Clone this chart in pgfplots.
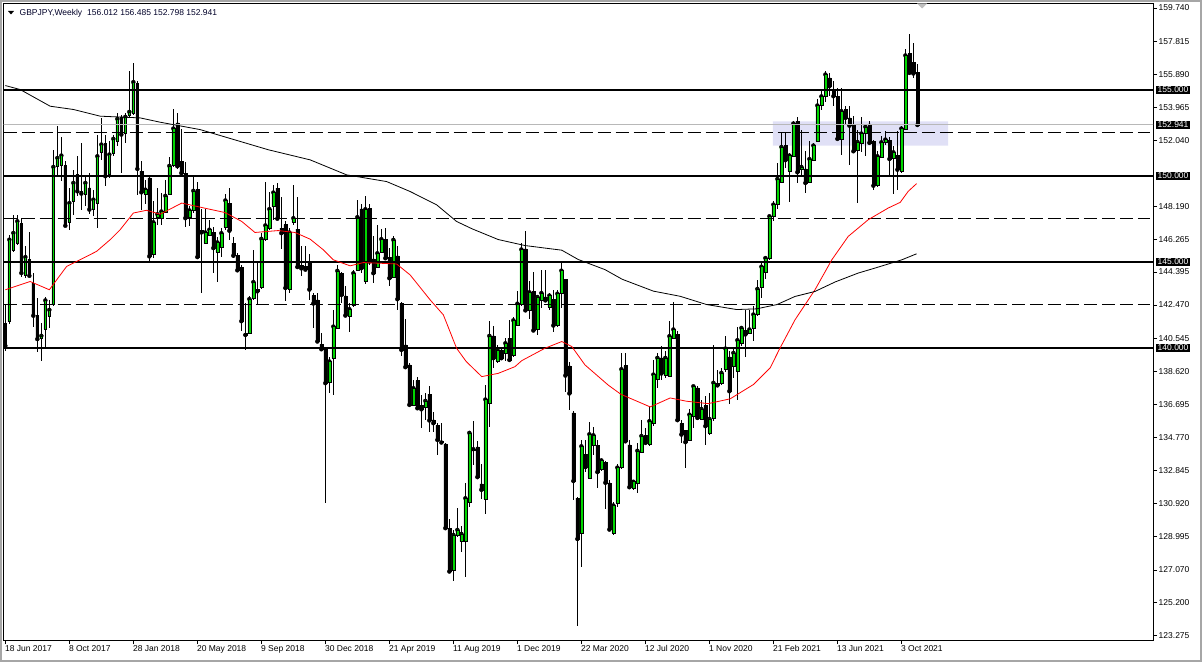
\documentclass[border=0pt]{standalone}
\usepackage{pgfplots}
\pgfplotsset{compat=1.18}
\usepackage{pgfplotstable}
\usetikzlibrary{calc}
\usepackage{fontspec}
\setmainfont{Liberation Sans}
\definecolor{bullgreen}{RGB}{0,215,0}
\definecolor{boxfill}{RGB}{224,224,246}
\newcommand{\lblfont}{\fontsize{8.5}{10}\selectfont}

\pgfplotstableread{
i O H L C
0 141.42 142.50 139.80 140.10
1 141.52 146.56 141.38 146.27
2 145.65 147.72 145.53 146.66
3 146.08 147.72 145.98 147.34
4 147.20 147.53 144.13 144.33
5 144.23 145.88 144.04 145.26
6 145.14 146.70 144.10 144.17
7 143.75 144.33 141.22 141.85
8 141.85 142.87 139.77 140.49
9 140.53 141.42 139.19 140.68
10 141.07 142.93 140.06 142.74
11 141.81 142.74 141.13 142.19
12 142.49 151.51 142.39 150.50
13 150.54 152.87 150.05 151.02
14 150.58 152.24 149.66 151.16
15 150.58 150.83 147.04 147.08
16 147.28 149.28 146.81 148.40
17 148.50 150.34 147.72 149.57
18 150.05 151.12 148.79 149.08
19 149.06 151.90 148.02 148.95
20 148.89 150.05 148.21 149.57
21 149.28 150.15 147.78 148.02
22 148.05 149.18 147.63 148.60
23 148.40 152.38 146.95 151.12
24 151.35 153.35 150.93 151.80
25 151.86 152.38 149.37 149.96
26 150.05 151.99 149.86 151.22
27 151.31 152.38 151.12 152.13
28 151.99 153.64 151.70 153.29
29 153.41 153.54 150.15 152.38
30 152.44 153.64 151.90 153.41
31 153.51 156.07 153.41 153.70
32 153.60 156.55 153.54 155.43
33 155.35 155.49 148.89 150.38
34 150.25 150.83 148.02 149.02
35 148.93 149.76 148.36 149.18
36 149.86 149.96 144.91 145.30
37 145.45 148.50 145.20 147.28
38 147.56 149.30 147.10 147.75
39 147.52 148.97 147.14 147.91
40 147.85 149.75 147.81 148.82
41 148.92 151.10 148.88 150.56
42 150.60 153.84 150.50 152.73
43 153.06 153.64 150.40 150.54
44 150.81 152.70 150.10 150.14
45 150.14 150.81 147.00 147.52
46 147.56 148.20 147.04 147.97
47 147.97 149.94 147.81 149.11
48 149.21 149.65 145.20 145.26
49 146.79 148.05 143.17 146.69
50 146.07 148.05 146.03 146.69
51 146.54 147.39 146.50 146.85
52 146.71 147.00 144.33 145.78
53 145.55 146.42 143.79 146.11
54 145.84 146.94 145.26 146.65
55 147.00 148.92 146.81 148.55
56 148.36 149.27 146.27 146.79
57 146.07 146.42 145.20 145.34
58 145.38 145.50 144.43 144.49
59 144.66 144.80 140.95 141.53
60 140.83 142.59 139.88 140.73
61 140.85 142.98 140.81 142.82
62 142.88 145.65 142.79 143.81
63 143.40 144.91 142.50 143.27
64 143.48 146.65 143.40 146.32
65 146.31 149.65 146.17 147.10
66 146.94 149.07 146.85 148.05
67 148.20 149.46 147.43 149.01
68 149.27 149.55 147.43 147.49
69 146.94 148.78 145.73 146.65
70 147.14 147.33 142.69 143.46
71 143.37 146.94 143.17 146.69
72 147.29 149.46 147.14 147.52
73 146.89 148.78 144.60 144.68
74 144.76 145.92 144.18 144.60
75 144.72 145.88 144.43 144.53
76 145.01 145.45 142.79 143.37
77 143.02 143.20 141.12 142.56
78 142.77 143.16 140.30 140.35
79 140.19 140.83 139.86 139.90
80 139.96 140.06 130.99 137.93
81 137.97 139.44 137.38 139.19
82 139.38 142.19 137.25 141.22
83 141.12 144.81 141.07 144.46
84 144.32 144.42 142.58 143.06
85 143.00 143.55 141.80 141.86
86 141.80 142.58 140.93 142.23
87 142.44 144.52 142.38 144.32
88 144.52 148.55 144.48 147.58
89 148.06 148.35 144.32 144.61
90 143.84 148.82 143.70 148.04
91 148.10 148.35 144.81 145.00
92 145.16 146.49 143.74 144.32
93 144.67 147.13 144.61 145.48
94 145.52 146.88 145.48 146.30
95 146.30 146.94 145.10 145.19
96 145.25 145.78 143.59 144.03
97 144.09 146.49 144.03 146.26
98 145.33 145.91 142.19 142.81
99 142.58 142.67 139.48 139.86
100 140.16 141.65 138.80 138.86
101 138.99 139.09 136.57 136.67
102 136.67 138.12 136.60 137.64
103 138.08 138.31 136.38 136.47
104 136.63 137.25 135.31 136.41
105 136.53 137.34 135.76 136.90
106 137.29 137.77 135.12 135.76
107 135.80 136.28 135.12 135.60
108 135.47 135.60 133.76 134.63
109 134.57 135.60 134.44 134.48
110 134.40 134.44 129.44 129.50
111 129.50 130.02 126.88 126.98
112 127.07 129.40 126.45 129.11
113 129.11 130.66 129.00 129.40
114 128.72 129.63 128.14 129.17
115 128.72 132.15 126.65 131.24
116 131.01 135.14 130.76 135.04
117 134.03 135.74 133.15 134.09
118 134.22 134.57 132.43 132.47
119 132.08 133.25 131.21 131.73
120 131.21 137.82 130.33 136.98
121 136.75 141.52 135.39 140.68
122 140.68 141.26 138.79 139.38
123 139.18 140.16 139.10 139.86
124 139.86 139.96 139.28 139.38
125 139.67 140.54 139.24 140.25
126 140.54 141.61 139.24 139.28
127 139.57 141.77 139.47 141.58
128 141.28 143.27 141.23 142.55
129 142.49 146.05 142.43 145.70
130 145.74 146.77 142.10 142.16
131 142.16 143.85 141.65 143.21
132 143.27 144.38 140.93 140.99
133 141.07 143.07 140.74 142.94
134 142.74 144.53 142.30 143.17
135 142.94 144.49 142.68 142.74
136 142.35 143.17 142.20 143.02
137 142.78 143.37 140.93 141.28
138 141.28 143.37 141.20 143.13
139 143.17 144.98 142.30 144.47
140 143.95 143.99 137.43 138.37
141 138.93 139.18 136.36 137.33
142 136.21 136.30 131.15 132.24
143 131.25 131.30 123.81 128.87
144 129.22 134.65 127.22 134.26
145 133.79 134.65 132.76 133.05
146 132.43 135.68 132.37 134.96
147 134.32 135.39 133.74 134.90
148 134.32 134.65 131.85 132.76
149 132.90 133.48 132.82 133.44
150 133.31 133.40 130.62 132.14
151 132.14 132.28 129.36 129.42
152 129.22 131.01 129.12 130.82
153 130.95 133.25 130.76 133.02
154 133.02 139.67 132.96 138.74
155 138.95 139.69 134.46 134.55
156 134.34 134.60 131.76 131.88
157 131.80 132.30 131.70 132.20
158 132.10 134.44 131.56 134.00
159 133.89 135.78 133.85 134.86
160 134.88 135.33 134.36 134.46
161 134.36 136.59 134.30 135.72
162 135.58 139.30 135.43 138.43
163 138.18 139.69 137.66 139.40
164 139.40 140.08 138.14 138.49
165 138.37 139.79 138.24 139.40
166 138.33 141.53 138.30 140.66
167 140.56 142.66 140.47 141.05
168 140.76 140.95 135.72 135.78
169 135.58 135.81 134.46 134.94
170 135.19 135.20 133.00 134.50
171 134.61 136.40 134.55 136.10
172 136.01 137.80 135.33 137.75
173 137.66 137.75 135.80 135.91
174 135.85 136.98 135.80 136.43
175 136.63 137.17 134.36 135.43
176 135.04 137.36 134.94 135.85
177 135.91 140.17 135.72 137.95
178 137.90 138.72 137.70 137.80
179 137.95 138.82 137.85 138.53
180 138.72 140.66 138.60 139.94
181 139.46 139.79 136.69 137.46
182 138.91 139.98 138.24 139.69
183 138.62 141.20 136.98 140.43
184 140.23 141.24 140.08 141.14
185 141.01 142.21 139.46 140.76
186 140.85 142.21 140.76 141.05
187 141.14 142.40 140.37 141.92
188 141.92 143.95 141.82 143.41
189 143.53 144.90 142.89 144.70
190 144.40 145.30 144.00 145.20
191 145.20 147.70 145.10 147.63
192 147.63 148.50 147.34 148.31
193 148.34 150.73 148.05 149.80
194 149.61 152.52 149.57 151.66
195 151.74 152.52 150.44 150.89
196 150.25 151.31 148.44 151.16
197 151.12 153.16 151.08 153.02
198 153.16 153.41 149.57 150.19
199 150.34 152.67 149.95 150.50
200 150.38 151.41 148.98 149.57
201 149.61 151.99 149.57 150.96
202 150.89 151.90 150.83 151.74
203 151.99 154.42 151.93 154.07
204 154.07 155.00 153.80 154.60
205 154.60 156.07 154.30 155.87
206 155.68 155.97 154.61 155.19
207 155.00 155.49 154.03 154.61
208 154.61 155.10 152.09 152.13
209 152.13 155.10 151.22 153.74
210 153.84 154.07 152.96 153.35
211 153.35 154.03 150.63 152.90
212 152.96 153.45 151.35 151.41
213 151.47 152.67 148.40 151.95
214 151.90 153.41 151.35 152.44
215 152.44 152.96 151.12 152.83
216 153.00 153.16 151.80 151.90
217 151.99 152.05 149.14 149.41
218 149.41 151.41 149.33 151.12
219 151.08 152.32 151.02 151.93
220 151.95 152.57 151.80 152.09
221 152.03 152.24 149.95 150.96
222 150.98 151.70 148.95 151.35
223 151.16 152.57 149.14 150.34
224 150.25 152.90 150.15 152.73
225 152.67 157.37 152.63 156.98
226 157.10 158.20 155.87 155.97
227 156.59 157.72 155.68 155.93
228 156.012 156.485 152.798 152.941
}\candles

\pgfplotstableread{
i v
0 143.36
6.2 143.84
11.0 143.36
15.3 144.71
19.5 145.20
22.8 145.59
26.2 146.27
28.7 146.85
32.0 147.82
35.3 147.98
38.7 147.75
44.1 148.40
49.9 148.10
54.9 147.85
59.1 147.33
62.4 146.69
68.2 146.80
72.4 146.69
76.2 146.30
79.5 145.68
82.0 145.10
86.2 144.75
89.5 144.94
97.8 144.86
101.2 144.22
106.2 142.77
109.5 141.90
112.8 139.96
115.2 139.19
119.1 138.31
123.2 138.50
127.4 138.89
129.1 139.24
134.9 139.96
139.1 140.35
141.6 140.06
144.9 138.99
150.7 137.82
153.9 137.28
161.2 136.55
166.2 137.07
170.3 136.88
175.7 136.74
181.2 137.02
187.0 137.85
191.2 138.82
193.5 139.90
197.4 141.61
202.4 143.36
206.6 145.10
210.7 146.46
215.7 147.43
220.7 148.11
223.7 148.44
225.7 149.08
227.8 149.53
}\maRed

\pgfplotstableread{
i v
0 155.23
3.7 155.00
11.2 154.03
17.0 153.84
23.7 153.45
33.7 153.35
38.7 153.10
48.7 152.67
59.9 151.90
65.7 151.50
76.2 150.91
85.3 150.04
95.3 149.65
101.2 149.07
107.8 148.30
112.8 147.33
116.7 146.90
123.2 146.28
129.9 145.93
139.1 145.66
143.2 145.12
149.9 144.53
154.2 143.97
162.0 143.28
168.7 142.98
175.3 142.50
182.8 142.21
187.8 142.25
192.9 142.50
197.4 142.97
202.4 143.26
207.4 143.81
213.2 144.33
217.4 144.62
224.1 145.10
227.8 145.45
}\maBlack

\begin{document}
\begin{tikzpicture}[x=1pt,y=1pt]
\pgfplotsset{
  chartbase/.style={
    width=1149.5pt, height=636.5pt, scale only axis,
    xmin=-0.46, xmax=286.9, ymin=123.0, ymax=160.0,
  },
  hidden/.style={axis lines=none, ticks=none},
}
% background box and wicks
\begin{axis}[chartbase, hidden]
\addplot[fill=boxfill, draw=none] coordinates {(191.9,151.74) (235.7,151.74) (235.7,153.15) (191.9,153.15) (191.9,151.74)};
\addplot[only marks, mark=none,
  error bars/.cd, y dir=both, y explicit, error mark=none,
  error bar style={draw=black, line width=1pt}]
  table[x=i, y=C, y error plus expr=\thisrow{H}-\thisrow{C}, y error minus expr=\thisrow{C}-\thisrow{L}] {\candles};
\end{axis}
% candle bodies
\begin{axis}[chartbase, hidden, ybar stacked, bar width=2.8pt]
\addplot[draw=none, fill=none] table[x=i, y expr={min(\thisrow{O},\thisrow{C})}] {\candles};
\addplot[draw=black, fill=bullgreen, line width=0.5pt] table[x=i, y expr={max(\thisrow{C}-\thisrow{O},0)}] {\candles};
\addplot[draw=black, fill=black, line width=0.5pt] table[x=i, y expr={max(\thisrow{O}-\thisrow{C},0)}] {\candles};
\end{axis}
% lines, averages, frame and ticks
\begin{axis}[chartbase,
  axis line style={line width=1pt, black},
  tick align=outside, major tick length=4pt,
  tick style={black, line width=0.8pt},
  xtick pos=bottom, ytick pos=right, yticklabel pos=right,
  xtick={0,16,32,48,64,80,96,112,128,144,160,176,192,208,224},
  xticklabels={18 Jun 2017,8 Oct 2017,28 Jan 2018,20 May 2018,9 Sep 2018,30 Dec 2018,21 Apr 2019,11 Aug 2019,1 Dec 2019,22 Mar 2020,12 Jul 2020,1 Nov 2020,21 Feb 2021,13 Jun 2021,3 Oct 2021},
  xticklabel style={anchor=north west, font=\lblfont, inner sep=0.5pt, xshift=-1pt, yshift=-0.5pt},
  ytick={123.275,125.200,127.070,128.995,130.920,132.845,134.770,136.695,138.620,140.545,142.470,144.395,146.265,148.190,152.040,153.965,155.890,157.815,159.740},
  yticklabels={123.275,125.200,127.070,128.995,130.920,132.845,134.770,136.695,138.620,140.545,142.470,144.395,146.265,148.190,152.040,153.965,155.890,157.815,159.740},
  yticklabel style={anchor=west, font=\lblfont, inner sep=1pt, xshift=0.5pt},
]
\addplot[black!28, line width=1pt] coordinates {(-1,152.941) (290,152.941)};
\addplot[black, line width=1pt, dash pattern=on 13pt off 5pt] coordinates {(-0.4,152.5) (286.2,152.5)};
\addplot[black, line width=1pt, dash pattern=on 13pt off 5pt] coordinates {(-0.4,147.5) (286.2,147.5)};
\addplot[black, line width=1pt, dash pattern=on 13pt off 5pt] coordinates {(-0.4,142.5) (286.2,142.5)};
\addplot[black, line width=2pt] coordinates {(-1,155) (290,155)};
\addplot[black, line width=2pt] coordinates {(-1,150) (290,150)};
\addplot[black, line width=2pt] coordinates {(-1,145) (290,145)};
\addplot[black, line width=2pt] coordinates {(-1,140) (290,140)};
\addplot[red, line width=0.8pt] table[x=i, y=v] {\maRed};
\addplot[black, line width=0.8pt] table[x=i, y=v] {\maBlack};
\coordinate (SW) at (rel axis cs:0,0);
\coordinate (l155) at (axis cs:286.9,155);
\coordinate (l1529) at (axis cs:286.9,152.941);
\coordinate (l150) at (axis cs:286.9,150);
\coordinate (l145) at (axis cs:286.9,145);
\coordinate (l140) at (axis cs:286.9,140);
\end{axis}
\foreach \c/\t in {l155/155.000, l1529/152.941, l150/150.000, l145/145.000, l140/140.000}{
  \node[fill=black, text=white, anchor=west, inner xsep=1.5pt, inner ysep=1pt, font=\lblfont] at ([xshift=3pt]\c) {\t};
}
% title
\fill[black] ($(SW)+(4.5,629)$) -- ($(SW)+(10.5,629)$) -- ($(SW)+(7.5,625.5)$) -- cycle;
\node[anchor=west, inner sep=0pt, font=\lblfont, text={rgb,255:red,0;green,0;blue,40}] at ($(SW)+(16,627)$) {GBPJPY,Weekly\hspace{5pt}156.012 156.485 152.798 152.941};
% shift marker
\fill[black!25] ($(SW)+(913.5,636.5)$) -- ($(SW)+(923.5,636.5)$) -- ($(SW)+(918.5,631.5)$) -- cycle;
% window border
\draw[black!35, line width=2pt] ($(SW)+(-2.5,-21)$) rectangle ($(SW)+(1197.5,639)$);
\pgfresetboundingbox
\path[use as bounding box] ($(SW)+(-3.5,-22)$) rectangle ($(SW)+(1198.5,640)$);
\end{tikzpicture}
\end{document}
